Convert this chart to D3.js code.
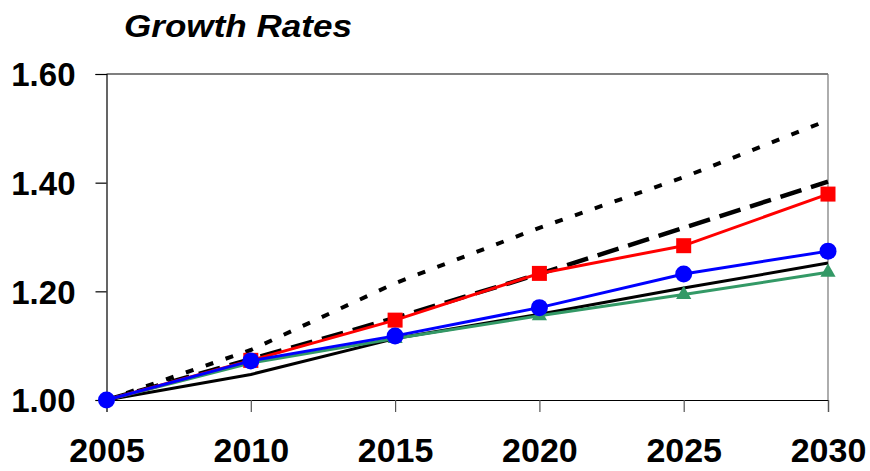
<!DOCTYPE html>
<html>
<head>
<meta charset="utf-8">
<script src="https://cdn.jsdelivr.net/npm/d3@7"></script>
<style>
html,body{margin:0;padding:0;background:#fff;}
svg{display:block;}
</style>
</head>
<body>
<svg id="chart" width="870" height="471"></svg>
<script>
const years = [2005, 2010, 2015, 2020, 2025, 2030];
const yTicks = [1.00, 1.20, 1.40, 1.60];
const dottedSeries = [1.00, 1.092, 1.215, 1.317, 1.410, 1.515];
const dashedSeries = [1.00, 1.075, 1.151, 1.232, 1.317, 1.402];
const blackSeries  = [1.00, 1.047, 1.113, 1.158, 1.206, 1.252];
const greenSeries  = [1.00, 1.068, 1.113, 1.155, 1.194, 1.235];
const redSeries    = [1.00, 1.073, 1.147, 1.233, 1.284, 1.379];
const blueSeries   = [1.00, 1.072, 1.118, 1.170, 1.232, 1.274];
const title = "Growth Rates";

(function () {
const svg = d3.select("#chart");
const mLeft = 106.5, mRight = 828, mTop = 74, mBottom = 400;
const font = "Liberation Sans, Arial, sans-serif";

const x = d3.scaleLinear().domain([2005, 2030]).range([mLeft, mRight]);
const y = d3.scaleLinear().domain([1.0, 1.6]).range([mBottom, mTop]);

// frame
svg.append("line").attr("x1", mLeft).attr("x2", mRight).attr("y1", mTop).attr("y2", mTop)
  .attr("stroke", "#000").attr("stroke-width", 1.2);
svg.append("line").attr("x1", mRight).attr("x2", mRight).attr("y1", mTop).attr("y2", mBottom)
  .attr("stroke", "#777").attr("stroke-width", 1.2);

// y axis
const yAxis = d3.axisLeft(y).tickValues(yTicks).tickSize(11).tickPadding(20)
  .tickFormat(d3.format(".2f"));
const gy = svg.append("g").attr("transform", `translate(${mLeft},0)`).call(yAxis);
gy.select(".domain").attr("stroke", "#000").attr("stroke-width", 1.2);
gy.selectAll(".tick line").attr("stroke", "#000").attr("stroke-width", 1.2);
gy.selectAll(".tick text").attr("font-family", font)
  .attr("font-weight", "bold").attr("font-size", 33).attr("fill", "#000").attr("dy", "0.36em");

// x axis
const xAxis = d3.axisBottom(x).tickValues(years).tickSize(12).tickPadding(28)
  .tickFormat(d3.format("d"));
const gx = svg.append("g").attr("transform", `translate(0,${mBottom})`).call(xAxis);
gx.select(".domain").attr("stroke", "#000").attr("stroke-width", 1.2);
gx.selectAll(".tick line").attr("stroke", "#555").attr("stroke-width", 1.2);
gx.selectAll(".tick text").attr("font-family", font)
  .attr("font-weight", "bold").attr("font-size", 34).attr("fill", "#000").attr("dy", "0.66em");

// title
svg.append("text").attr("x", 124).attr("y", 37).text(title)
  .attr("font-family", font)
  .attr("font-weight", "bold").attr("font-style", "italic").attr("font-size", 31)
  .attr("textLength", 228).attr("lengthAdjust", "spacingAndGlyphs").attr("fill", "#000");

const line = d3.line().x((d, i) => x(years[i])).y(d => y(d));

function drawLine(data, color, width, dash) {
  const p = svg.append("path").datum(data).attr("d", line)
    .attr("fill", "none").attr("stroke", color).attr("stroke-width", width)
    .attr("stroke-linejoin", "round");
  if (dash) p.attr("stroke-dasharray", dash);
}

drawLine(dottedSeries, "#000", 4, "8,13");
drawLine(dashedSeries, "#000", 4.5, "22,10");
drawLine(blackSeries, "#000", 3);
drawLine(greenSeries, "#339966", 3);
drawLine(redSeries, "#ff0000", 3);
drawLine(blueSeries, "#0000ff", 3);

// green triangles
svg.append("g").selectAll("path").data(greenSeries.slice(1)).join("path")
  .attr("transform", (d, i) => `translate(${x(years[i + 1])},${y(d)})`)
  .attr("d", d3.symbol().type(d3.symbolTriangle).size(100))
  .attr("fill", "#339966");
// red squares
svg.append("g").selectAll("rect").data(redSeries.slice(1)).join("rect")
  .attr("x", (d, i) => x(years[i + 1]) - 7.5).attr("y", d => y(d) - 7.5)
  .attr("width", 15).attr("height", 15).attr("fill", "#ff0000");
// blue circles
svg.append("g").selectAll("circle").data(blueSeries).join("circle")
  .attr("cx", (d, i) => x(years[i])).attr("cy", d => y(d)).attr("r", 8.5)
  .attr("fill", "#0000ff");
})();
</script>
</body>
</html>
